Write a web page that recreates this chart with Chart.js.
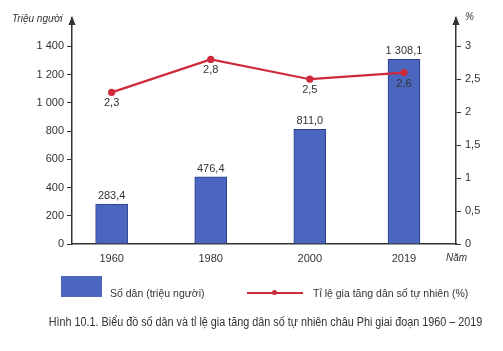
<!DOCTYPE html>
<html>
<head>
<meta charset="utf-8">
<script src="https://cdn.jsdelivr.net/npm/chart.js@4/dist/chart.umd.min.js"></script>
<style>
body{margin:0;background:#fff;font-family:'Liberation Sans',Arial,sans-serif;color:#333;}
#wrap{position:relative;width:503px;height:351px;}
canvas{position:absolute;left:0;top:0;}
.leg{position:absolute;font-size:10.5px;line-height:12px;white-space:nowrap;}
#caption{position:absolute;left:14px;width:503px;top:315px;text-align:center;font-size:12px;color:#333;white-space:nowrap;transform:scaleX(0.9);transform-origin:center;}
</style>
</head>
<body>
<div id="wrap">
  <canvas id="chart" width="503" height="351"></canvas>
  <div style="position:absolute;left:61px;top:276px;width:41px;height:21px;background:#4a66bf;"></div>
  <div class="leg" style="left:110px;top:287px;">Số dân (triệu người)</div>
  <div style="position:absolute;left:247px;top:292px;width:56px;height:1.5px;background:#cf2a3b;"></div>
  <div style="position:absolute;left:272px;top:290px;width:5px;height:5px;border-radius:50%;background:#cf2a3b;"></div>
  <div class="leg" style="left:313px;top:287px;">Tỉ lệ gia tăng dân số tự nhiên (%)</div>
  <div id="caption">Hình 10.1. Biểu đồ số dân và tỉ lệ gia tăng dân số tự nhiên châu Phi giai đoạn 1960 – 2019</div>
</div>
<script>
// du lieu
const years = [1960, 1980, 2000, 2019];
const population = [283.4, 476.4, 811.0, 1308.1];   // trieu nguoi
const growthRate = [2.3, 2.8, 2.5, 2.6];             // %
const leftTicks = [0, 200, 400, 600, 800, 1000, 1200, 1400];
const rightTicks = [0, 0.5, 1, 1.5, 2, 2.5, 3];

const barColor = '#4a66bf';
const lineColor = '#cf2a3b';
const axisColor = '#333';
const tickFont = {family: "'Liberation Sans', Arial, sans-serif", size: 11};

// so kieu viet: 1 308,1
function fmt(v, dec){
    let s = v.toFixed(dec);
    let [i, d] = s.split('.');
    i = i.replace(/\B(?=(\d{3})+(?!\d))/g, ' ');
    return d ? i + ',' + d : i;
}

const labelsPlugin = {
    id: 'labels',
    afterDatasetsDraw(chart){
        const ctx = chart.ctx;
        ctx.save();
        ctx.font = "11px 'Liberation Sans', Arial, sans-serif";
        ctx.fillStyle = '#333';
        ctx.textAlign = 'center';
        ctx.textBaseline = 'middle';
        chart.getDatasetMeta(0).data.forEach((el, i) => {
            ctx.fillText(fmt(population[i], 1), el.x, el.y - 8);
        });
        chart.getDatasetMeta(1).data.forEach((el, i) => {
            ctx.fillText(fmt(growthRate[i], 1), el.x, el.y + 11);
        });
        ctx.restore();
    },
    afterDraw(chart){
        const ctx = chart.ctx;
        const a = chart.chartArea;
        ctx.save();
        ctx.fillStyle = axisColor;
        // mui ten tren hai truc
        [a.left, a.right].forEach(x => {
            ctx.beginPath();
            ctx.moveTo(x, a.top - 2);
            ctx.lineTo(x - 3.5, a.top + 7);
            ctx.lineTo(x + 3.5, a.top + 7);
            ctx.closePath();
            ctx.fill();
        });
        ctx.font = "italic 10px 'Liberation Sans', Arial, sans-serif";
        ctx.textBaseline = 'middle';
        ctx.textAlign = 'left';
        ctx.fillText('Triệu người', 12, 19);
        ctx.fillText('%', 465, 17);
        ctx.fillText('Năm', 446, 258);
        ctx.restore();
    }
};

new Chart(document.getElementById('chart'), {
    type: 'bar',
    data: {
        datasets: [
            {
                type: 'bar',
                label: 'Số dân (triệu người)',
                data: years.map((y, i) => ({x: y, y: population[i]})),
                backgroundColor: barColor,
                borderColor: '#2d3f8c',
                borderWidth: 1,
                barThickness: 32,
                yAxisID: 'y',
                order: 1
            },
            {
                type: 'line',
                label: 'Tỉ lệ gia tăng dân số tự nhiên (%)',
                data: years.map((y, i) => ({x: y, y: growthRate[i]})),
                borderColor: lineColor,
                backgroundColor: lineColor,
                borderWidth: 2.2,
                pointRadius: 2.5,
                tension: 0,
                yAxisID: 'y1',
                order: 0
            }
        ]
    },
    options: {
        responsive: false,
        animation: false,
        layout: {padding: {top: 18, bottom: 0, left: 0, right: 0}},
        plugins: {legend: {display: false}, tooltip: {enabled: false}},
        scales: {
            x: {
                type: 'linear',
                offset: false,
                min: 1952,
                max: 2029.5,
                afterBuildTicks: s => { s.ticks = years.map(v => ({value: v})); },
                afterFit: s => { s.height = 107; },
                grid: {display: true, drawOnChartArea: false, drawTicks: false, offset: false},
                border: {display: true, color: axisColor, width: 1.5},
                ticks: {color: '#333', font: tickFont, padding: 8, callback: v => String(v)}
            },
            y: {
                position: 'left',
                min: 0,
                max: 1600,
                afterBuildTicks: s => { s.ticks = leftTicks.map(v => ({value: v})); },
                afterFit: s => { s.width = 72; },
                grid: {drawOnChartArea: false, color: axisColor, tickLength: 5},
                border: {display: true, color: axisColor, width: 1.5},
                ticks: {color: '#333', font: tickFont, padding: 3, callback: v => fmt(v, 0)}
            },
            y1: {
                position: 'right',
                min: 0,
                max: 3 * 1600 / 1400,
                afterBuildTicks: s => { s.ticks = rightTicks.map(v => ({value: v})); },
                afterFit: s => { s.width = 47; },
                grid: {drawOnChartArea: false, color: axisColor, tickLength: 5},
                border: {display: true, color: axisColor, width: 1.5},
                ticks: {color: '#333', font: tickFont, padding: 4, callback: v => String(v).replace('.', ',')}
            }
        }
    },
    plugins: [labelsPlugin]
});
</script>
</body>
</html>
